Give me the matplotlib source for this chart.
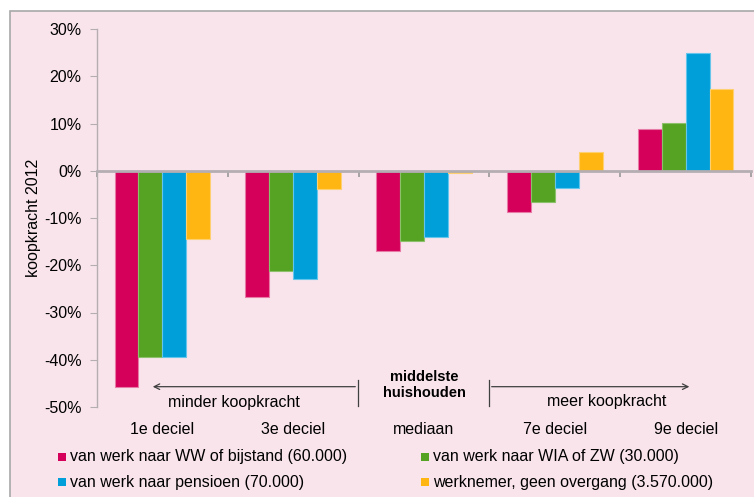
import matplotlib.pyplot as plt
import matplotlib.patches as mpatches
import numpy as np

plt.rcParams['font.family'] = ['Liberation Sans', 'DejaVu Sans']

categories = ["1e deciel", "3e deciel", "mediaan", "7e deciel", "9e deciel"]
series_names = ["van werk naar WW of bijstand (60.000)",
                "van werk naar WIA of ZW (30.000)",
                "van werk naar pensioen (70.000)",
                "werknemer, geen overgang (3.570.000)"]
ww_bijstand = [-45.8, -26.7, -16.9, -8.7, 8.9]
wia_zw = [-39.4, -21.2, -14.8, -6.6, 10.1]
pensioen = [-39.4, -22.9, -14.0, -3.6, 24.9]
geen_overgang = [-14.4, -3.8, -0.4, 4.0, 17.4]
y_ticks = [-50, -40, -30, -20, -10, 0, 10, 20, 30]

colors = ["#D4005A", "#56A323", "#009FDA", "#FFB512"]
edges = ["#E87AA6", "#8CC06A", "#66C5EA", "#FFD070"]
bg = "#F9E4EC"
grey = "#B4AEB2"

W, H = 754, 497
fig = plt.figure(figsize=(W / 100, H / 100), dpi=100, facecolor="white")
# pink frame round the whole chart
fig.patches.append(mpatches.Rectangle((10 / W, -0.1), 1.2, 1 - 11 / H + 0.1,
                                      transform=fig.transFigure, facecolor=bg,
                                      edgecolor="#A8A8A8", linewidth=1.2, zorder=-5))

ax = fig.add_axes([97 / W, 1 - 407 / H, (751 - 97) / W, (407 - 29) / H])
ax.set_facecolor("none")
ax.set_zorder(2)

x = np.arange(len(categories))
bw = 0.183
all_series = [ww_bijstand, wia_zw, pensioen, geen_overgang]
for i, vals in enumerate(all_series):
    ax.bar(x + (i - 1.5) * bw, vals, bw, color=colors[i], edgecolor=edges[i],
           linewidth=0.8, zorder=2)

ax.set_xlim(-0.5, len(categories) - 0.5)
ax.set_ylim(-50, 30)
ax.set_yticks(y_ticks)
ax.set_yticklabels([f"{t}%" for t in y_ticks], fontsize=11.5)
ax.set_xticks(np.arange(len(categories) + 1) - 0.5)
ax.set_xticklabels([])

for s in ["top", "right"]:
    ax.spines[s].set_visible(False)
ax.spines["bottom"].set_position(("data", 0))
ax.spines["bottom"].set_color(grey)
ax.spines["bottom"].set_linewidth(2)
ax.spines["bottom"].set_zorder(3)
ax.spines["left"].set_color(grey)
ax.spines["left"].set_linewidth(1)
ax.tick_params(axis="y", direction="out", length=5, color=grey, pad=6)
ax.tick_params(axis="x", direction="out", length=4, color="#999999", width=1.2)

ax.set_ylabel("koopkracht 2012", fontsize=11.5, labelpad=2)

# category labels under the plot
for xi, c in zip(x, categories):
    ax.text(xi, -54.8, c, ha="center", va="center", fontsize=11.5, clip_on=False)

# arrows and middle block
ax.annotate("", xy=(-0.095, -45.7), xytext=(1.496, -45.7),
            arrowprops=dict(arrowstyle="->", color="#404040", lw=0.9))
ax.annotate("", xy=(4.05, -45.7), xytext=(2.496, -45.7),
            arrowprops=dict(arrowstyle="->", color="#404040", lw=0.9))
ax.plot([1.496, 1.496], [-44.2, -49.7], color="#404040", lw=0.9, clip_on=False)
ax.plot([2.496, 2.496], [-44.2, -49.7], color="#404040", lw=0.9, clip_on=False)
ax.text(0.546, -49.1, "minder koopkracht", ha="center", va="center", fontsize=11.5)
ax.text(3.40, -48.8, "meer koopkracht", ha="center", va="center", fontsize=11.5)
ax.text(2.0, -45.3, "middelste\nhuishouden", ha="center", va="center",
        fontsize=10.5, fontweight="bold", linespacing=1.2)

# legend, two columns
leg_pos = [(58, 457), (421, 457), (58, 482), (421, 482)]
for (px, py), i in zip(leg_pos, range(4)):
    fig.patches.append(mpatches.Rectangle((px / W, 1 - (py + 4) / H), 8 / W, 8 / H,
                                          transform=fig.transFigure,
                                          facecolor=colors[i], edgecolor="none"))
    fig.text((px + 12) / W, 1 - py / H, series_names[i], ha="left", va="center",
             fontsize=11.5)

fig.savefig("out.png", dpi=100, facecolor="white")
